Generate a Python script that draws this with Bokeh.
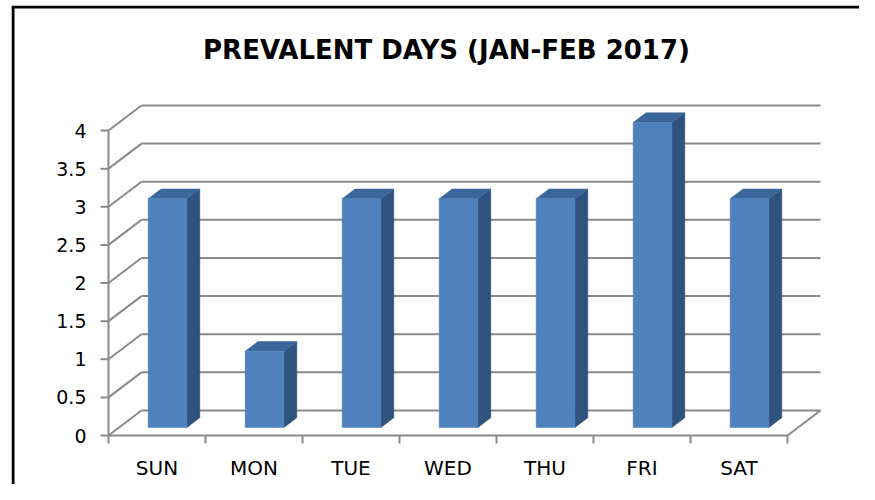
import numpy as np
from bokeh.plotting import figure
from bokeh.models import Range1d
from bokeh.core.properties import value
from bokeh.embed import file_html
from bokeh.resources import INLINE

# ---- data ----
days = ["SUN", "MON", "TUE", "WED", "THU", "FRI", "SAT"]
counts = [3, 1, 3, 3, 3, 4, 3]
y_ticks = [0, 0.5, 1, 1.5, 2, 2.5, 3, 3.5, 4]
y_tick_labels = ["0", "0.5", "1", "1.5", "2", "2.5", "3", "3.5", "4"]
title_text = "PREVALENT DAYS (JAN-FEB 2017)"

# ---- 3D projection parameters (data units) ----
DX, DY = 0.34, 0.328          # depth offset of back wall
F, G = 0.32, 0.39             # bar front depth fraction, bar depth
BW = 0.40                     # bar width
W, H = 859, 484
ML, MT = 11, 5
FW, FH = W - ML, H - MT
PX, PY = 97.0, 76.25          # pixels per unit
X0, Y0 = 108 - ML, 435 - MT   # frame pixel of data origin

xr = Range1d(-X0 / PX, (FW - X0) / PX)
yr = Range1d(-(FH - Y0) / PY, Y0 / PY)
p = figure(width=W, height=H, output_backend="svg", toolbar_location=None,
           x_range=xr, y_range=yr,
           min_border=0, min_border_left=ML, min_border_right=0,
           min_border_top=MT, min_border_bottom=0)
p.axis.visible = False
p.grid.visible = False
p.outline_line_color = None
p.background_fill_color = "white"
p.border_fill_color = "white"

# chart-area border (left and top edges visible in the reference)
bx = xr.start + 1.5 / PX
by = yr.end - 1.5 / PY
p.segment(x0=[bx, xr.start], y0=[yr.start, by], x1=[bx, xr.end], y1=[by, by],
          line_color="black", line_width=3)

grid_col = "#8a8a8a"
n = len(days)
yt = np.array(y_ticks, dtype=float)

# back wall gridlines
p.segment(x0=np.full(len(yt), DX), y0=yt + DY, x1=np.full(len(yt), n + DX), y1=yt + DY,
          line_color=grid_col, line_width=2)
# side wall diagonals
p.segment(x0=np.zeros(len(yt)), y0=yt, x1=np.full(len(yt), DX), y1=yt + DY,
          line_color=grid_col, line_width=2)
# front vertical axis
p.segment(x0=[0], y0=[0], x1=[0], y1=[yt.max()], line_color=grid_col, line_width=2)
# floor front edge and right edge
p.segment(x0=[0, n], y0=[0, 0], x1=[n, n + DX], y1=[0, DY], line_color=grid_col, line_width=2)
# y ticks
p.segment(x0=np.full(len(yt), -8 / PX), y0=yt, x1=np.zeros(len(yt)), y1=yt,
          line_color=grid_col, line_width=2)
# category ticks
kx = np.arange(n + 1, dtype=float)
p.segment(x0=kx, y0=np.zeros(n + 1), x1=kx, y1=np.full(n + 1, -8 / PY),
          line_color=grid_col, line_width=2)

# bars
v = np.array(counts, dtype=float)
c = np.arange(n) + 0.5 + F * DX
b = F * DY
l, r = c - BW / 2, c + BW / 2
side_xs = [[r[i], r[i] + G * DX, r[i] + G * DX, r[i]] for i in range(n)]
side_ys = [[b, b + G * DY, v[i] + b + G * DY, v[i] + b] for i in range(n)]
top_xs = [[l[i], r[i], r[i] + G * DX, l[i] + G * DX] for i in range(n)]
top_ys = [[v[i] + b, v[i] + b, v[i] + b + G * DY, v[i] + b + G * DY] for i in range(n)]
p.patches(side_xs, side_ys, fill_color="#30527e", line_color="#30527e", line_width=0.5)
p.patches(top_xs, top_ys, fill_color="#3b669b", line_color="#3b669b", line_width=0.5)
p.quad(left=l, right=r, bottom=np.full(n, b), top=v + b,
       fill_color="#4f81bd", line_color="#4f81bd", line_width=0.5)

# y tick labels
p.text(x=np.full(len(yt), -22 / PX), y=yt, text=y_tick_labels,
       text_font=value("DejaVu Sans"), text_font_size="19px", text_color="black",
       text_align="right", text_baseline="middle")
# category labels
p.text(x=np.arange(n) + 0.5, y=np.full(n, -32 / PY), text=days,
       text_font=value("DejaVu Sans"), text_font_size="20px", text_color="black",
       text_align="center", text_baseline="middle")
# title
p.text(x=[(446 - 108) / PX], y=[(435 - 49) / PY], text=[title_text],
       text_font=value("DejaVu Sans"), text_font_size="26px", text_font_style="bold",
       text_color="black", text_align="center", text_baseline="middle")

open("out.html", "w").write(file_html(p, INLINE))
